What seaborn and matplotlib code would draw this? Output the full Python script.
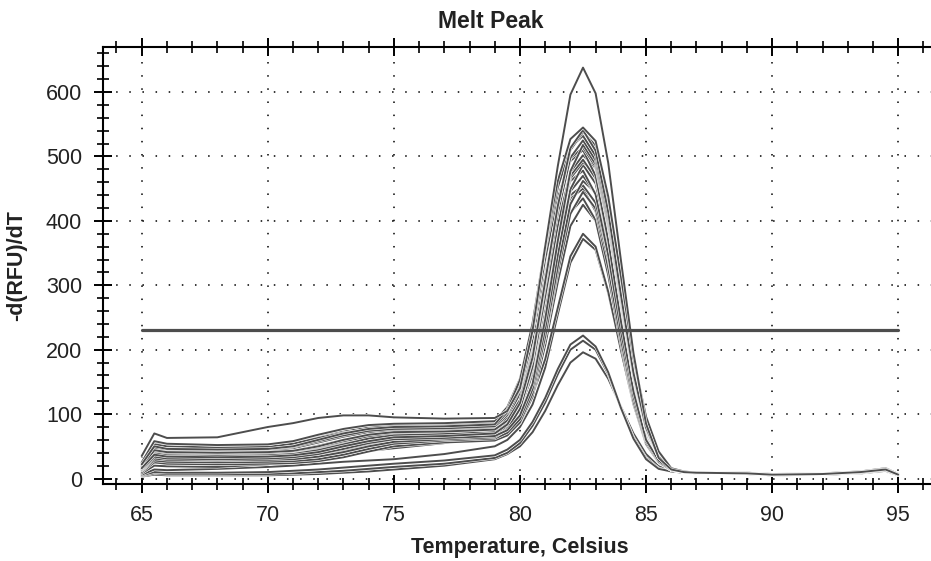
import matplotlib
matplotlib.use("Agg")
import matplotlib.pyplot as plt
import matplotlib.patheffects as pe
from matplotlib.ticker import MultipleLocator
import seaborn as sns
import pandas as pd

# ---------------- data ----------------
temps = [65, 65.5, 66, 68, 70, 71, 72, 73, 74, 75, 77, 79,
         79.5, 80, 80.5, 81, 81.5, 82, 82.5, 83, 83.5, 84, 84.5, 85, 85.5, 86, 86.5,
         87, 89, 90, 92, 93.5, 94.5, 95]

top_curve = [35, 70, 63, 64, 80, 86, 94, 98, 98, 95, 93, 94,
             105, 140, 230, 360, 485, 596, 638, 598, 490, 340, 195, 85, 32, 14, 10,
             9, 8, 6, 7, 10, 14, 6]
band_01 = [22, 50, 46, 45, 46, 50, 60, 70, 77, 80, 81, 84, 107, 153, 241, 361, 462, 527, 545, 524, 438, 315, 187, 96, 42, 16, 11, 9, 8, 6, 7, 10, 15, 6]
band_02 = [18, 44, 41, 40, 41, 43, 50, 60, 68, 72, 73, 76, 90, 122, 192, 307, 423, 510, 538, 517, 432, 311, 184, 94, 42, 15, 10, 9, 8, 7, 7, 9, 13, 5]
band_03 = [25, 58, 54, 52, 53, 58, 68, 77, 83, 85, 86, 89, 111, 155, 240, 355, 452, 514, 532, 501, 407, 281, 161, 78, 33, 15, 10, 10, 9, 7, 8, 11, 16, 7]
band_04 = [16, 39, 36, 35, 36, 38, 44, 53, 62, 67, 69, 72, 86, 117, 185, 299, 412, 498, 525, 494, 401, 278, 159, 77, 33, 15, 10, 9, 8, 6, 7, 9, 14, 6]
band_05 = [14, 34, 31, 30, 31, 33, 38, 46, 55, 61, 63, 66, 75, 98, 147, 247, 369, 477, 518, 488, 396, 274, 157, 76, 33, 15, 10, 9, 7, 6, 6, 8, 12, 5]
band_06 = [24, 53, 50, 48, 49, 54, 63, 71, 76, 78, 79, 82, 103, 146, 228, 339, 433, 493, 510, 470, 370, 245, 135, 60, 28, 14, 10, 9, 8, 7, 7, 10, 15, 6]
band_07 = [13, 31, 29, 28, 29, 30, 34, 41, 50, 57, 61, 64, 77, 108, 174, 283, 393, 476, 502, 482, 404, 290, 172, 89, 40, 15, 10, 8, 7, 6, 6, 8, 13, 5]
band_08 = [18, 42, 39, 38, 39, 42, 49, 58, 65, 69, 71, 74, 87, 116, 179, 285, 390, 470, 495, 466, 379, 262, 151, 73, 32, 15, 10, 9, 8, 6, 7, 9, 14, 6]
band_09 = [12, 28, 26, 25, 26, 27, 30, 37, 46, 54, 59, 62, 71, 92, 139, 232, 347, 449, 487, 458, 373, 258, 148, 72, 31, 15, 10, 8, 7, 5, 6, 8, 12, 5]
band_10 = [20, 46, 43, 42, 43, 47, 56, 65, 72, 75, 76, 79, 99, 139, 215, 318, 406, 462, 478, 441, 347, 230, 127, 57, 26, 13, 10, 9, 8, 7, 7, 10, 15, 6]
band_11 = [15, 37, 34, 33, 34, 36, 41, 50, 58, 63, 66, 69, 81, 109, 169, 270, 370, 446, 470, 442, 360, 249, 143, 70, 31, 15, 10, 9, 8, 6, 7, 9, 13, 6]
band_12 = [10, 25, 23, 22, 23, 24, 27, 33, 42, 50, 56, 59, 67, 87, 132, 220, 329, 426, 462, 444, 372, 268, 159, 82, 37, 15, 10, 8, 7, 5, 6, 8, 12, 5]
band_13 = [24, 55, 52, 50, 51, 55, 64, 73, 79, 82, 83, 86, 104, 141, 211, 307, 389, 440, 455, 428, 348, 241, 139, 68, 30, 14, 10, 10, 9, 7, 8, 10, 16, 7]
band_14 = [14, 33, 31, 30, 31, 32, 36, 44, 53, 60, 64, 67, 75, 93, 135, 218, 320, 411, 445, 419, 341, 236, 136, 67, 30, 14, 10, 9, 8, 6, 6, 9, 13, 5]
band_15 = [17, 40, 37, 36, 37, 40, 47, 56, 63, 66, 68, 71, 82, 107, 162, 253, 344, 413, 435, 401, 316, 210, 116, 53, 25, 13, 10, 9, 8, 6, 7, 9, 14, 6]
band_16 = [12, 30, 28, 27, 28, 29, 32, 39, 47, 53, 58, 61, 68, 86, 127, 207, 305, 392, 425, 400, 325, 226, 130, 64, 29, 14, 10, 8, 7, 5, 6, 8, 12, 5]
band_17 = [16, 37, 34, 33, 34, 36, 41, 50, 58, 64, 66, 70, 84, 117, 188, 306, 423, 513, 541, 509, 414, 286, 164, 79, 34, 15, 10, 9, 8, 6, 7, 9, 14, 6]
band_18 = [21, 48, 45, 44, 45, 49, 58, 67, 74, 77, 78, 81, 103, 146, 228, 341, 436, 497, 514, 484, 393, 272, 156, 76, 33, 15, 10, 9, 8, 7, 7, 10, 15, 6]
band_19 = [14, 35, 32, 31, 32, 34, 39, 47, 56, 62, 65, 68, 81, 110, 174, 280, 385, 466, 491, 472, 395, 284, 169, 87, 39, 15, 10, 8, 7, 6, 6, 8, 13, 5]
band_20 = [18, 43, 40, 39, 40, 43, 51, 60, 67, 71, 73, 76, 95, 132, 203, 300, 383, 435, 450, 415, 327, 217, 120, 54, 25, 13, 10, 9, 8, 7, 7, 9, 14, 6]
mid_a = [8, 20, 19, 18, 22, 28, 33, 38, 43, 47, 55, 70, 80, 98, 130, 185, 265, 345, 380, 360, 290, 200, 115, 55, 25, 13, 10, 9, 8, 6, 7, 9, 13, 6]
mid_b = [6, 14, 13, 15, 18, 20, 23, 26, 28, 30, 38, 50, 60, 80, 115, 172, 255, 335, 372, 355, 288, 202, 120, 58, 26, 13, 10, 9, 8, 6, 7, 9, 13, 5]
low_a = [5, 10, 9, 9, 10, 12, 14, 17, 20, 23, 28, 36, 45, 60, 88, 125, 170, 208, 222, 205, 165, 110, 62, 30, 15, 11, 9, 8, 7, 6, 6, 8, 12, 5]
low_b = [4, 8, 7, 7, 7, 8, 10, 12, 15, 18, 23, 32, 40, 55, 82, 118, 162, 200, 214, 200, 162, 110, 64, 32, 16, 11, 9, 8, 7, 6, 6, 8, 12, 5]
low_c = [3, 6, 5, 5, 5, 6, 7, 9, 11, 14, 20, 30, 38, 50, 72, 105, 145, 180, 196, 186, 155, 112, 70, 38, 19, 12, 9, 8, 7, 5, 6, 8, 11, 5]

threshold = 230
x_ticks = [65, 70, 75, 80, 85, 90, 95]
y_ticks = [0, 100, 200, 300, 400, 500, 600]

curves = [low_c, low_b, low_a, mid_b, mid_a,
          band_16, band_15, band_20, band_14, band_13, band_12, band_11, band_10,
          band_09, band_19, band_08, band_07, band_06, band_18, band_05, band_04,
          band_03, band_02, band_17, band_01, top_curve]

# ---------------- style ----------------
sns.set_theme(style="white")
plt.rcParams["font.family"] = ["Liberation Sans", "DejaVu Sans"]

LINE = "#4d4d4d"
W, H = 931, 561
fig = plt.figure(figsize=(W / 100, H / 100), dpi=100)
ax = fig.add_axes([103 / W, 1 - 484 / H, (931 - 103) / W, (484 - 47) / H])

for c in curves:
    df = pd.DataFrame({"temp": temps, "value": c})
    sns.lineplot(data=df, x="temp", y="value", ax=ax, color=LINE,
                 linewidth=1.4, estimator=None, sort=False)
for ln in ax.lines:
    ln.set_path_effects([pe.Stroke(linewidth=2.2, foreground="white"), pe.Normal()])

sns.lineplot(x=[temps[0], temps[-1]], y=[threshold, threshold], ax=ax,
             color=LINE, linewidth=2.3, estimator=None)

ax.set_xlim(63.465, 96.30)
ax.set_ylim(-8.5, 670)
ax.set_xticks(x_ticks)
ax.set_yticks(y_ticks)
ax.xaxis.set_minor_locator(MultipleLocator(1))
ax.yaxis.set_minor_locator(MultipleLocator(20))

ax.grid(True, which="major", color="black", linestyle=(0, (1, 7.6)), linewidth=1.1)
ax.set_axisbelow(True)

for s in ["left", "bottom", "top"]:
    ax.spines[s].set_visible(True)
    ax.spines[s].set_color("black")
    ax.spines[s].set_linewidth(1.5)
ax.spines["right"].set_visible(False)

ax.tick_params(which="major", direction="inout", length=13, width=1.4,
               color="black", labelsize=15.5, labelcolor="#222222", pad=8.5,
               top=True, bottom=True, left=True, right=False, labeltop=False)
ax.tick_params(which="minor", direction="inout", length=8, width=1.2,
               color="black", top=True, bottom=True, left=True, right=False)

ax.set_xlabel("Temperature, Celsius", fontsize=15.5, fontweight="bold", color="#222222")
ax.set_ylabel("-d(RFU)/dT", fontsize=15.5, fontweight="bold", color="#222222")
ax.xaxis.set_label_coords(0.503, -0.121)
ax.yaxis.set_label_coords(-0.092, 0.5)

fig.text(491 / W, 1 - 21 / H, "Melt Peak", ha="center", va="center",
         fontsize=16.5, fontweight="bold", color="#222222")

fig.savefig("out.png", dpi=100, facecolor="white")
